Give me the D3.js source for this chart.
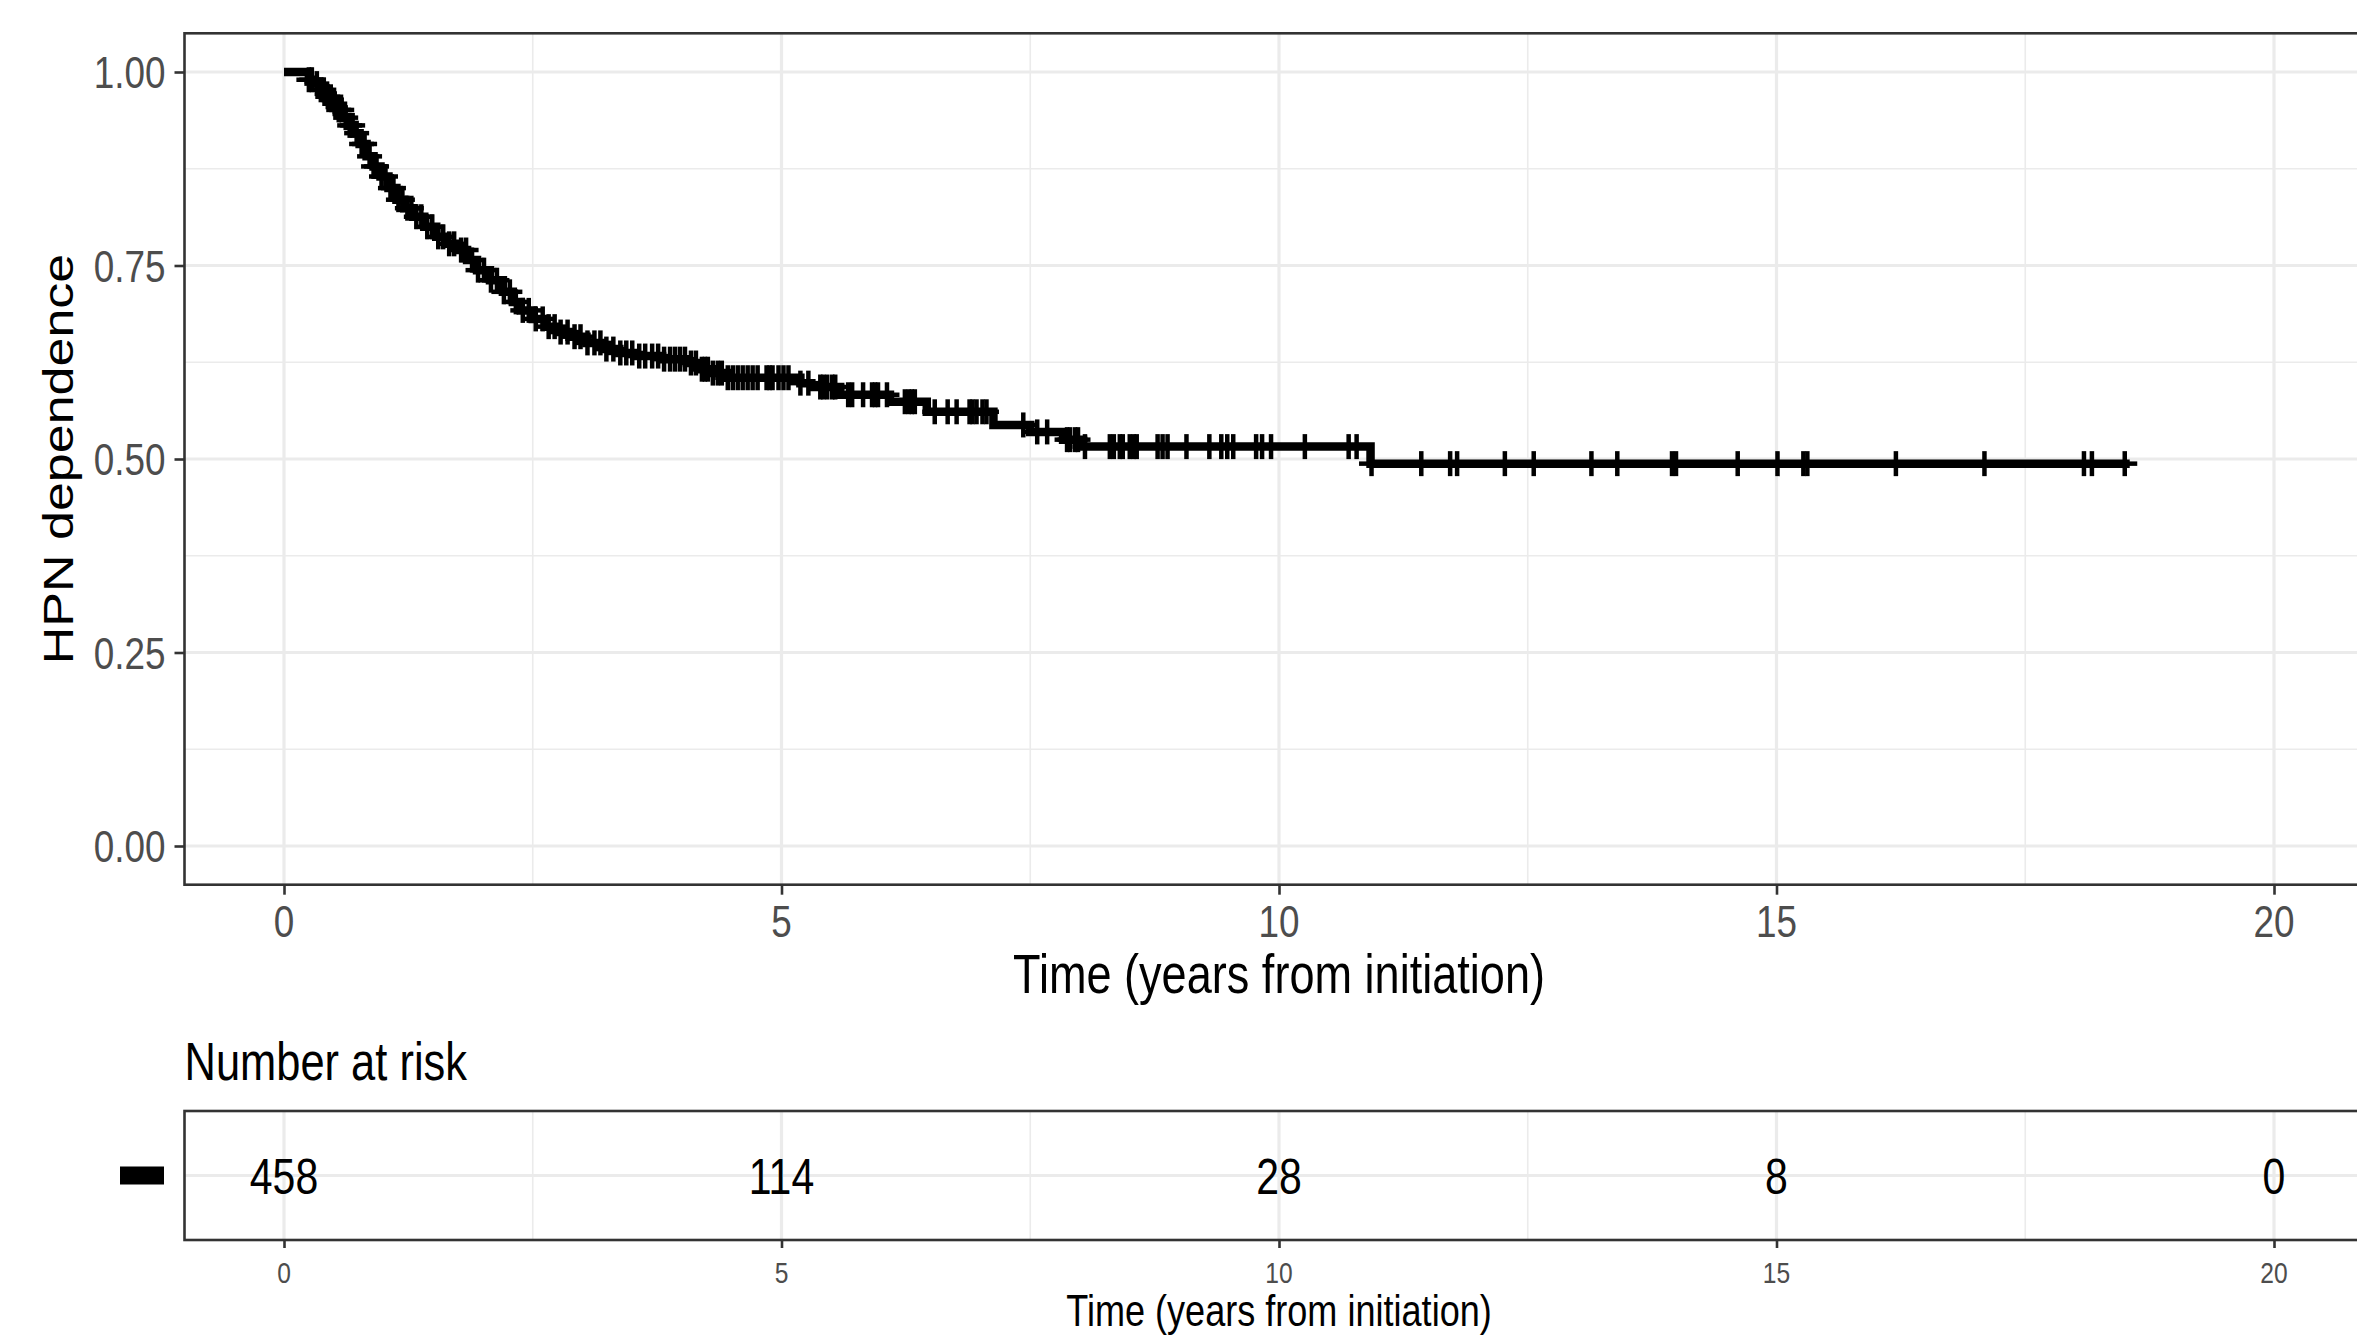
<!DOCTYPE html>
<html>
<head>
<meta charset="utf-8">
<script src="https://cdn.jsdelivr.net/npm/d3@7"></script>
<style>
  body { margin: 0; background: #fff; }
  text { font-family: "Liberation Sans", Arial, sans-serif; }
</style>
</head>
<body>
<div id="chart"></div>
<script>
// Kaplan-Meier estimate: time of each drop (years) and survival after it
const stepTimes = [0.25, 0.30, 0.36, 0.42, 0.48, 0.53, 0.59, 0.65, 0.70, 0.76, 0.83, 0.90, 0.97, 1.05, 1.13,
  1.21, 1.30, 1.41, 1.53, 1.64, 1.74, 1.84, 1.94, 2.07, 2.20, 2.30, 2.38, 2.50, 2.62, 2.75, 2.87, 3.04,
  3.21, 3.37, 3.54, 3.80, 4.05, 4.18, 4.30, 4.45, 5.19, 5.30, 5.59, 6.09, 6.46, 7.13, 7.50, 7.83, 8.03, 10.92];
const stepSurv = [0.990, 0.985, 0.977, 0.968, 0.959, 0.951, 0.941, 0.931, 0.921, 0.907, 0.891, 0.878, 0.865, 0.850, 0.835,
  0.824, 0.813, 0.800, 0.787, 0.778, 0.770, 0.757, 0.744, 0.731, 0.716, 0.703, 0.692, 0.681, 0.671, 0.664, 0.658, 0.650,
  0.642, 0.637, 0.633, 0.629, 0.624, 0.616, 0.611, 0.605, 0.598, 0.593, 0.583, 0.574, 0.561, 0.544, 0.535, 0.525, 0.516, 0.494];
const endTime = 18.55;

// censored observations (years)
const censorTimes = [0.25, 0.28, 0.33, 0.37, 0.40, 0.44, 0.47, 0.51, 0.55, 0.58, 0.62, 0.66, 0.69, 0.73, 0.78, 0.81,
  0.86, 0.90, 0.93, 0.98, 1.02, 1.07, 1.10, 1.15, 1.19, 1.24, 1.28, 1.33, 1.38, 1.44, 1.49, 1.55, 1.60, 1.66,
  1.71, 1.78, 1.83, 1.89, 1.95, 2.01, 2.08, 2.14, 2.21, 2.27, 2.33, 2.40, 2.46, 2.53, 2.60, 2.66, 2.72, 2.78,
  2.85, 2.92, 2.98, 3.05, 3.12, 3.18, 3.24, 3.31, 3.38, 3.44, 3.50, 3.57, 3.63, 3.70, 3.76, 3.82, 3.88, 3.93,
  3.98, 4.03, 4.09, 4.14, 4.20, 4.23, 4.26, 4.31, 4.36, 4.40, 4.46, 4.51, 4.56, 4.61, 4.66, 4.71, 4.76, 4.85,
  4.88, 4.91, 4.97, 5.02, 5.07, 5.19, 5.27, 5.39, 5.42, 5.46, 5.51, 5.54, 5.67, 5.71, 5.82, 5.91, 5.94, 5.97,
  6.06, 6.24, 6.28, 6.31, 6.34, 6.54, 6.67, 6.76, 6.89, 6.92, 6.96, 7.02, 7.06, 7.43, 7.57, 7.67, 7.87, 7.90,
  7.95, 7.98, 8.05, 8.30, 8.34, 8.40, 8.43, 8.50, 8.54, 8.57, 8.78, 8.83, 8.88, 9.07, 9.30, 9.42, 9.48, 9.54,
  9.77, 9.83, 9.92, 10.26, 10.70, 10.78, 10.93, 11.43, 11.72, 11.79, 12.27, 12.56, 13.14, 13.40, 13.95, 13.99,
  14.61, 15.01, 15.27, 15.31, 16.20, 17.09, 18.09, 18.17, 18.50];

const xTicks = [0, 5, 10, 15, 20];
const xMinor = [2.5, 7.5, 12.5, 17.5];
const yTicks = [0, 0.25, 0.5, 0.75, 1];
const yMinor = [0.125, 0.375, 0.625, 0.875];

// number at risk table
const riskTimes = [0, 5, 10, 15, 20];
const riskCounts = [458, 114, 28, 8, 0];

const width = 2357;
const height = 1337;
const gridColor = "#ebebeb";
const axisColor = "#333333";
const tickTextColor = "#4d4d4d";
const squeeze = 0.82; // the source picture is horizontally condensed

const svg = d3.select("#chart").append("svg")
  .attr("width", width)
  .attr("height", height)
  .style("background", "#fff");

// text drawn with a horizontal squeeze, anchored at (px, py)
function label(px, py, str, size, anchor, color, dy) {
  return svg.append("text")
    .attr("transform", `translate(${px},${py}) scale(${squeeze},1)`)
    .attr("dy", dy || 0)
    .style("text-anchor", anchor)
    .style("font-size", size + "px")
    .style("fill", color)
    .text(str);
}

const x = d3.scaleLinear().domain([0, 20]).range([284, 2274]);
const y = d3.scaleLinear().domain([0, 1]).range([846, 72]);

// panel limits with ggplot style expansion
const panelLeft = x(-1);
const panelRight = x(21);
const panelTop = y(1.05);
const panelBottom = y(-0.05);

// ---- main panel grid ----
const grid = svg.append("g");
yMinor.forEach(v => {
  grid.append("line")
    .attr("x1", panelLeft).attr("x2", panelRight)
    .attr("y1", y(v)).attr("y2", y(v))
    .style("stroke", gridColor).style("stroke-width", 1.6);
});
xMinor.forEach(v => {
  grid.append("line")
    .attr("x1", x(v)).attr("x2", x(v))
    .attr("y1", panelTop).attr("y2", panelBottom)
    .style("stroke", gridColor).style("stroke-width", 1.6);
});
yTicks.forEach(v => {
  grid.append("line")
    .attr("x1", panelLeft).attr("x2", panelRight)
    .attr("y1", y(v)).attr("y2", y(v))
    .style("stroke", gridColor).style("stroke-width", 3.2);
});
xTicks.forEach(v => {
  grid.append("line")
    .attr("x1", x(v)).attr("x2", x(v))
    .attr("y1", panelTop).attr("y2", panelBottom)
    .style("stroke", gridColor).style("stroke-width", 3.2);
});

// ---- survival curve ----
const curvePoints = [[0, 1]];
stepTimes.forEach((t, i) => curvePoints.push([t, stepSurv[i]]));
curvePoints.push([endTime, stepSurv[stepSurv.length - 1]]);

svg.append("path")
  .datum(curvePoints)
  .attr("d", d3.line().x(d => x(d[0])).y(d => y(d[1])).curve(d3.curveStepAfter))
  .style("fill", "none")
  .style("stroke", "#000")
  .style("stroke-width", 8.5);

function survAt(t) {
  let s = 1;
  stepTimes.forEach((st, i) => { if (st <= t) s = stepSurv[i]; });
  return s;
}

// censor marks (+)
const half = 12.5;
const marks = svg.append("g")
  .style("stroke", "#000")
  .style("stroke-width", 4.5);
censorTimes.forEach(t => {
  const cx = x(t);
  const cy = y(survAt(t));
  marks.append("line").attr("x1", cx).attr("x2", cx).attr("y1", cy - half).attr("y2", cy + half);
  marks.append("line").attr("x1", cx - half).attr("x2", cx + half).attr("y1", cy).attr("y2", cy);
});

// panel border
svg.append("rect")
  .attr("x", panelLeft).attr("y", panelTop)
  .attr("width", panelRight - panelLeft).attr("height", panelBottom - panelTop)
  .style("fill", "none").style("stroke", axisColor).style("stroke-width", 2.6);

// ---- axes (tick marks from d3, labels squeezed) ----
const yAxis = svg.append("g")
  .attr("transform", `translate(${panelLeft},0)`)
  .call(d3.axisLeft(y).tickValues(yTicks).tickFormat("").tickSize(10));
const xAxis = svg.append("g")
  .attr("transform", `translate(0,${panelBottom})`)
  .call(d3.axisBottom(x).tickValues(xTicks).tickFormat("").tickSize(10));

[yAxis, xAxis].forEach(ax => {
  ax.select(".domain").remove();
  ax.selectAll(".tick line").style("stroke", axisColor).style("stroke-width", 2.6);
});

yTicks.forEach(v => label(panelLeft - 19, y(v), d3.format(".2f")(v), 45, "end", tickTextColor, "0.36em"));
xTicks.forEach(v => label(x(v), panelBottom + 52, v, 45, "middle", tickTextColor));

// axis titles
label(x(10), 993, "Time (years from initiation)", 55, "middle", "#000");

svg.append("text")
  .attr("transform", `translate(58,${(panelTop + panelBottom) / 2}) scale(${squeeze},1) rotate(-90)`)
  .attr("dy", "0.35em")
  .style("text-anchor", "middle")
  .style("font-size", "52px")
  .style("fill", "#000")
  .text("HPN dependence");

// ---- number at risk table ----
const riskTop = 1111;
const riskBottom = 1240;
const riskMid = (riskTop + riskBottom) / 2;

label(panelLeft, 1080, "Number at risk", 53, "start", "#000");

const riskGrid = svg.append("g");
xMinor.forEach(v => {
  riskGrid.append("line")
    .attr("x1", x(v)).attr("x2", x(v))
    .attr("y1", riskTop).attr("y2", riskBottom)
    .style("stroke", gridColor).style("stroke-width", 1.6);
});
xTicks.forEach(v => {
  riskGrid.append("line")
    .attr("x1", x(v)).attr("x2", x(v))
    .attr("y1", riskTop).attr("y2", riskBottom)
    .style("stroke", gridColor).style("stroke-width", 3.2);
});
riskGrid.append("line")
  .attr("x1", panelLeft).attr("x2", panelRight)
  .attr("y1", riskMid).attr("y2", riskMid)
  .style("stroke", gridColor).style("stroke-width", 3.2);

riskTimes.forEach((t, i) => label(x(t), riskMid, riskCounts[i], 50, "middle", "#000", "0.36em"));

svg.append("rect")
  .attr("x", panelLeft)
  .attr("y", riskTop)
  .attr("width", panelRight - panelLeft)
  .attr("height", riskBottom - riskTop)
  .style("fill", "none").style("stroke", axisColor).style("stroke-width", 2.6);

// strata key (single group)
svg.append("rect")
  .attr("x", 120).attr("y", riskMid - 9)
  .attr("width", 44).attr("height", 18)
  .style("fill", "#000");

const riskAxis = svg.append("g")
  .attr("transform", `translate(0,${riskBottom})`)
  .call(d3.axisBottom(x).tickValues(xTicks).tickFormat("").tickSize(8));
riskAxis.select(".domain").remove();
riskAxis.selectAll(".tick line").style("stroke", axisColor).style("stroke-width", 2.6);
xTicks.forEach(v => label(x(v), riskBottom + 43, v, 30, "middle", tickTextColor));

label(x(10), 1326, "Time (years from initiation)", 44, "middle", "#000");
</script>
</body>
</html>
